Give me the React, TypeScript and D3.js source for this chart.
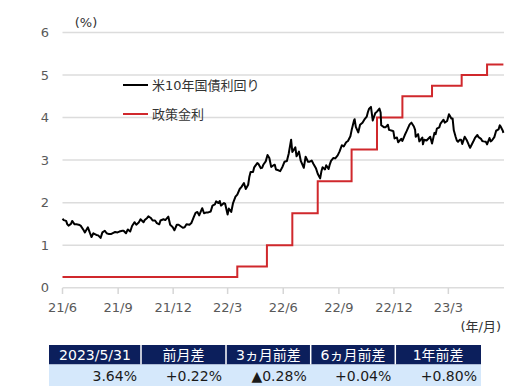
import React, { useEffect, useRef } from 'react';
import * as d3 from 'd3';

// 米10年国債利回り (%)
const yield10y: [string, number][] = [
  ['2021-06-01', 1.62], ['2021-06-03', 1.59], ['2021-06-07', 1.57], ['2021-06-09', 1.49], ['2021-06-11', 1.46],
  ['2021-06-15', 1.50], ['2021-06-17', 1.57], ['2021-06-21', 1.49], ['2021-06-24', 1.49], ['2021-06-28', 1.48],
  ['2021-07-01', 1.46], ['2021-07-06', 1.35], ['2021-07-08', 1.30], ['2021-07-13', 1.42], ['2021-07-16', 1.30],
  ['2021-07-19', 1.19], ['2021-07-22', 1.28], ['2021-07-27', 1.24], ['2021-07-30', 1.23], ['2021-08-03', 1.17],
  ['2021-08-06', 1.30], ['2021-08-10', 1.34], ['2021-08-13', 1.28], ['2021-08-17', 1.26], ['2021-08-20', 1.26],
  ['2021-08-24', 1.29], ['2021-08-27', 1.31], ['2021-08-31', 1.30], ['2021-09-03', 1.32], ['2021-09-08', 1.34],
  ['2021-09-10', 1.34], ['2021-09-14', 1.28], ['2021-09-17', 1.37], ['2021-09-21', 1.32], ['2021-09-24', 1.45],
  ['2021-09-28', 1.54], ['2021-10-01', 1.48], ['2021-10-05', 1.53], ['2021-10-08', 1.61], ['2021-10-13', 1.54],
  ['2021-10-15', 1.59], ['2021-10-19', 1.64], ['2021-10-21', 1.68], ['2021-10-25', 1.64], ['2021-10-28', 1.58],
  ['2021-11-01', 1.58], ['2021-11-04', 1.52], ['2021-11-08', 1.49], ['2021-11-10', 1.58], ['2021-11-15', 1.61],
  ['2021-11-18', 1.59], ['2021-11-23', 1.67], ['2021-11-26', 1.48], ['2021-11-30', 1.43], ['2021-12-03', 1.35],
  ['2021-12-07', 1.48], ['2021-12-10', 1.48], ['2021-12-14', 1.44], ['2021-12-17', 1.41], ['2021-12-20', 1.42],
  ['2021-12-23', 1.49], ['2021-12-28', 1.48], ['2021-12-31', 1.52],
  ['2022-01-04', 1.66], ['2022-01-07', 1.76], ['2022-01-10', 1.78], ['2022-01-13', 1.70], ['2022-01-18', 1.87],
  ['2022-01-21', 1.75], ['2022-01-25', 1.77], ['2022-01-28', 1.77], ['2022-02-01', 1.79], ['2022-02-04', 1.93],
  ['2022-02-08', 1.96], ['2022-02-10', 2.03], ['2022-02-14', 1.99], ['2022-02-16', 2.04], ['2022-02-18', 1.93],
  ['2022-02-23', 1.99], ['2022-02-25', 1.97], ['2022-03-01', 1.72], ['2022-03-03', 1.86], ['2022-03-07', 1.78],
  ['2022-03-10', 1.99], ['2022-03-14', 2.14], ['2022-03-17', 2.19], ['2022-03-21', 2.32], ['2022-03-24', 2.37],
  ['2022-03-28', 2.46], ['2022-03-31', 2.32], ['2022-04-04', 2.42], ['2022-04-06', 2.61], ['2022-04-08', 2.72],
  ['2022-04-12', 2.72], ['2022-04-14', 2.83], ['2022-04-19', 2.93], ['2022-04-21', 2.91], ['2022-04-25', 2.81],
  ['2022-04-27', 2.82], ['2022-04-29', 2.89], ['2022-05-03', 2.97], ['2022-05-06', 3.12], ['2022-05-09', 3.05],
  ['2022-05-12', 2.84], ['2022-05-16', 2.88], ['2022-05-18', 2.89], ['2022-05-20', 2.78], ['2022-05-24', 2.76],
  ['2022-05-27', 2.74], ['2022-05-31', 2.85], ['2022-06-03', 2.96], ['2022-06-07', 2.98], ['2022-06-10', 3.15],
  ['2022-06-14', 3.48], ['2022-06-16', 3.19], ['2022-06-21', 3.30], ['2022-06-23', 3.09], ['2022-06-27', 3.20],
  ['2022-06-30', 2.98], ['2022-07-05', 2.82], ['2022-07-08', 3.08], ['2022-07-12', 2.96], ['2022-07-14', 2.96],
  ['2022-07-18', 2.99], ['2022-07-21', 2.91], ['2022-07-25', 2.81], ['2022-07-28', 2.68], ['2022-08-01', 2.57],
  ['2022-08-03', 2.73], ['2022-08-05', 2.83], ['2022-08-09', 2.78], ['2022-08-11', 2.88], ['2022-08-15', 2.79],
  ['2022-08-17', 2.90], ['2022-08-19', 2.98], ['2022-08-23', 3.05], ['2022-08-26', 3.04], ['2022-08-30', 3.11],
  ['2022-09-02', 3.20], ['2022-09-06', 3.35], ['2022-09-09', 3.32], ['2022-09-13', 3.42], ['2022-09-16', 3.45],
  ['2022-09-20', 3.56], ['2022-09-22', 3.70], ['2022-09-26', 3.93], ['2022-09-27', 3.96], ['2022-09-29', 3.78],
  ['2022-10-03', 3.65], ['2022-10-06', 3.83], ['2022-10-10', 3.88], ['2022-10-13', 3.95], ['2022-10-17', 4.02],
  ['2022-10-19', 4.13], ['2022-10-21', 4.21], ['2022-10-24', 4.25], ['2022-10-27', 3.93], ['2022-10-31', 4.10],
  ['2022-11-03', 4.14], ['2022-11-07', 4.21], ['2022-11-09', 4.12], ['2022-11-10', 3.82], ['2022-11-15', 3.77],
  ['2022-11-17', 3.77], ['2022-11-21', 3.83], ['2022-11-23', 3.71], ['2022-11-28', 3.69], ['2022-11-30', 3.68],
  ['2022-12-02', 3.51], ['2022-12-06', 3.53], ['2022-12-08', 3.42], ['2022-12-13', 3.50], ['2022-12-15', 3.45],
  ['2022-12-19', 3.59], ['2022-12-22', 3.68], ['2022-12-27', 3.84], ['2022-12-30', 3.88],
  ['2023-01-03', 3.79], ['2023-01-05', 3.71], ['2023-01-06', 3.55], ['2023-01-10', 3.61], ['2023-01-12', 3.44],
  ['2023-01-17', 3.53], ['2023-01-18', 3.37], ['2023-01-20', 3.48], ['2023-01-24', 3.46], ['2023-01-26', 3.49],
  ['2023-01-30', 3.55], ['2023-02-02', 3.39], ['2023-02-06', 3.64], ['2023-02-08', 3.61], ['2023-02-10', 3.74],
  ['2023-02-14', 3.77], ['2023-02-16', 3.86], ['2023-02-21', 3.95], ['2023-02-23', 3.88], ['2023-02-27', 3.92],
  ['2023-03-02', 4.08], ['2023-03-06', 3.98], ['2023-03-08', 3.98], ['2023-03-10', 3.70], ['2023-03-13', 3.55],
  ['2023-03-15', 3.46], ['2023-03-17', 3.43], ['2023-03-20', 3.48], ['2023-03-22', 3.48], ['2023-03-24', 3.38],
  ['2023-03-28', 3.55], ['2023-03-31', 3.48], ['2023-04-04', 3.35], ['2023-04-06', 3.29], ['2023-04-11', 3.43],
  ['2023-04-14', 3.52], ['2023-04-18', 3.59], ['2023-04-20', 3.54], ['2023-04-24', 3.50], ['2023-04-26', 3.45],
  ['2023-04-28', 3.44], ['2023-05-02', 3.43], ['2023-05-04', 3.37], ['2023-05-08', 3.52], ['2023-05-10', 3.44],
  ['2023-05-12', 3.46], ['2023-05-16', 3.54], ['2023-05-19', 3.69], ['2023-05-23', 3.72], ['2023-05-25', 3.82],
  ['2023-05-26', 3.80], ['2023-05-30', 3.69], ['2023-05-31', 3.64],
];

// 政策金利 (FF金利 上限, %)
const policyRate: [string, number][] = [
  ['2021-06-01', 0.25], ['2022-03-17', 0.5], ['2022-05-05', 1.0], ['2022-06-16', 1.75],
  ['2022-07-28', 2.5], ['2022-09-22', 3.25], ['2022-11-03', 4.0], ['2022-12-15', 4.5],
  ['2023-02-02', 4.75], ['2023-03-23', 5.0], ['2023-05-04', 5.25], ['2023-05-31', 5.25],
];

const xTickDates = ['2021-06-01', '2021-09-01', '2021-12-01', '2022-03-01', '2022-06-01', '2022-09-01', '2022-12-01', '2023-03-01'];
const yTicks = [0, 1, 2, 3, 4, 5, 6];

const tableHeaders = ['2023/5/31', '前月差', '3ヵ月前差', '6ヵ月前差', '1年前差'];
const tableValues = ['3.64%', '+0.22%', '▲0.28%', '+0.04%', '+0.80%'];

const FONT = '"DejaVu Sans", "Noto Sans CJK JP", sans-serif';

export default function App() {
  const ref = useRef<SVGSVGElement>(null);

  useEffect(() => {
    if (!ref.current) return;
    const svg = d3.select(ref.current);
    svg.selectAll('*').remove();

    const parse = d3.timeParse('%Y-%m-%d');
    const x = d3.scaleTime()
      .domain([parse('2021-06-01')!, parse('2023-06-01')!])
      .range([62.5, 504]);
    const y = d3.scaleLinear().domain([0, 6]).range([287.7, 32.5]);

    // グリッド
    svg.append('g').selectAll('line').data(yTicks).join('line')
      .attr('x1', 62.5).attr('x2', 504)
      .attr('y1', d => y(d)).attr('y2', d => y(d))
      .attr('stroke', '#dcdcdc').attr('stroke-width', 1.5);

    // y軸ラベル
    svg.append('g').selectAll('text').data(yTicks).join('text')
      .attr('x', 49).attr('y', d => y(d)).attr('dy', '0.35em')
      .attr('text-anchor', 'end').attr('fill', '#595959')
      .style('font-size', '13px').style('font-family', FONT)
      .text(d => d);

    // x軸目盛り
    const xg = svg.append('g');
    xg.selectAll('line').data(xTickDates).join('line')
      .attr('x1', d => x(parse(d)!)).attr('x2', d => x(parse(d)!))
      .attr('y1', 288).attr('y2', 294)
      .attr('stroke', '#d6d6d6').attr('stroke-width', 1.5);
    xg.selectAll('text').data(xTickDates).join('text')
      .attr('x', d => x(parse(d)!)).attr('y', 312)
      .attr('text-anchor', 'middle').attr('fill', '#595959')
      .style('font-size', '13px').style('font-family', FONT)
      .text(d => d3.timeFormat('%y')(parse(d)!) + '/' + (parse(d)!.getMonth() + 1));

    svg.append('text').attr('x', 86).attr('y', 27).attr('text-anchor', 'middle')
      .attr('fill', '#333').style('font-size', '13px').style('font-family', FONT).text('(%)');
    svg.append('text').attr('x', 501).attr('y', 331).attr('text-anchor', 'end')
      .attr('fill', '#333').style('font-size', '13px').style('font-family', FONT).text('(年/月)');

    // 政策金利
    const stepLine = d3.line<[string, number]>()
      .x(d => x(parse(d[0])!)).y(d => y(d[1])).curve(d3.curveStepAfter);
    svg.append('path').datum(policyRate).attr('d', stepLine)
      .attr('fill', 'none').attr('stroke', '#d0282c').attr('stroke-width', 2);

    // 米10年国債利回り
    const line = d3.line<[string, number]>()
      .x(d => x(parse(d[0])!)).y(d => y(d[1]));
    svg.append('path').datum(yield10y).attr('d', line)
      .attr('fill', 'none').attr('stroke', '#000').attr('stroke-width', 2)
      .attr('stroke-linejoin', 'round');

    // 凡例
    const legend = [
      { label: '米10年国債利回り', color: '#000', y: 85 },
      { label: '政策金利', color: '#d0282c', y: 114 },
    ];
    legend.forEach(l => {
      svg.append('line').attr('x1', 123).attr('x2', 148).attr('y1', l.y).attr('y2', l.y)
        .attr('stroke', l.color).attr('stroke-width', 2);
      svg.append('text').attr('x', 152).attr('y', l.y).attr('dy', '0.35em')
        .attr('fill', '#333').style('font-size', '13px').style('font-family', FONT)
        .text(l.label);
    });

    // 表
    const colEdges = [49, 141, 226, 310.7, 395.3, 481];
    const tg = svg.append('g');
    tg.append('rect').attr('x', 49).attr('y', 345).attr('width', 432).attr('height', 19.5).attr('fill', '#0c1f5c');
    tg.append('rect').attr('x', 49).attr('y', 364.5).attr('width', 432).attr('height', 21.5).attr('fill', '#d5e8fb');
    tg.selectAll('line.div').data(colEdges.slice(1, -1)).join('line')
      .attr('x1', d => d).attr('x2', d => d).attr('y1', 345).attr('y2', 364.5)
      .attr('stroke', '#fff').attr('stroke-width', 1.5);
    tg.selectAll('text.h').data(tableHeaders).join('text')
      .attr('x', (d, i) => (colEdges[i] + colEdges[i + 1]) / 2).attr('y', 360)
      .attr('text-anchor', 'middle').attr('fill', '#fff')
      .style('font-size', '14px').style('font-family', FONT).text(d => d);
    tg.selectAll('text.v').data(tableValues).join('text')
      .attr('x', (d, i) => colEdges[i + 1] - 4).attr('y', 381)
      .attr('text-anchor', 'end').attr('fill', '#1a1a1a')
      .style('font-size', '14px').style('font-family', FONT).text(d => d);
  }, []);

  return (
    <div style={{ position: 'absolute', left: 0, top: 0 }}>
      <svg ref={ref} width={529} height={387} style={{ display: 'block', background: '#fff' }} />
    </div>
  );
}
